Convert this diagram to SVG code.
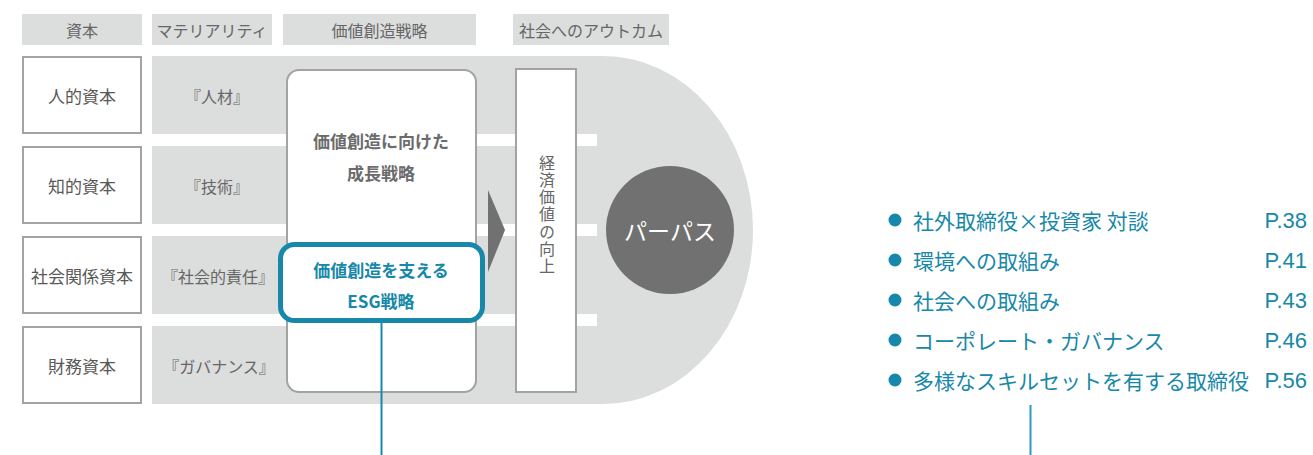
<svg xmlns="http://www.w3.org/2000/svg" width="1313" height="455" viewBox="0 0 1313 455">
<style>
text{font-family:"Noto Sans CJK JP","Noto Sans",sans-serif;}
.hdr{fill:#dcdddd;}
.hdrt{font-size:16px;fill:#666;text-anchor:middle;dominant-baseline:central;}
.cap{fill:#fff;stroke:#a3a3a3;stroke-width:2;}
.capt{font-size:17px;fill:#595959;text-anchor:middle;dominant-baseline:central;}
.matt{font-size:16px;fill:#666;text-anchor:middle;dominant-baseline:central;}
.gap{fill:#fff;}
.ctr{font-size:17px;font-weight:bold;text-anchor:middle;dominant-baseline:central;}
.gr{fill:#6b6b6b;}
.tl{fill:#1788a9;}
.vt{font-size:16px;fill:#666;text-anchor:middle;writing-mode:vertical-rl;letter-spacing:1.3px;}
.li{font-size:21px;fill:#1788a9;dominant-baseline:central;}
.pg{font-family:"Liberation Sans",Arial,sans-serif;font-size:22px;fill:#1788a9;dominant-baseline:central;text-anchor:end;}
</style>
<rect width="1313" height="455" fill="#fff"/>
<g id="headers">
<rect class="hdr" x="22" y="14" width="120" height="31"/>
<text class="hdrt" x="82" y="29.5">資本</text>
<rect class="hdr" x="152" y="14" width="120" height="31"/>
<text class="hdrt" x="212" y="29.5">マテリアリティ</text>
<rect class="hdr" x="283" y="14" width="193" height="31"/>
<text class="hdrt" x="379.5" y="29.5">価値創造戦略</text>
<rect class="hdr" x="513" y="14" width="156" height="31"/>
<text class="hdrt" x="591" y="29.5">社会へのアウトカム</text>
</g>
<g id="band">
<path d="M152 56 H603 A150 174 0 0 1 603 404 H152 Z" fill="#dcdddd"/>
<rect class="gap" x="152" y="134" width="445" height="12"/>
<rect class="gap" x="152" y="224" width="445" height="12"/>
<rect class="gap" x="152" y="314" width="445" height="12"/>
</g>
<g id="capital-human">
<rect class="cap" x="23" y="57" width="118" height="76"/>
<text class="capt" x="82" y="95">人的資本</text>
<text class="matt" x="217" y="96">『人材』</text>
</g>
<g id="capital-intellectual">
<rect class="cap" x="23" y="147" width="118" height="76"/>
<text class="capt" x="82" y="185">知的資本</text>
<text class="matt" x="217" y="186">『技術』</text>
</g>
<g id="capital-social">
<rect class="cap" x="23" y="237" width="118" height="76"/>
<text class="capt" x="82" y="275">社会関係資本</text>
<text class="matt" x="218" y="276">『社会的責任』</text>
</g>
<g id="capital-financial">
<rect class="cap" x="23" y="327" width="118" height="76"/>
<text class="capt" x="82" y="365">財務資本</text>
<text class="matt" x="219" y="366">『ガバナンス』</text>
</g>
<g id="strategy">
<rect class="cap" x="287" y="70" width="189" height="322" rx="12"/>
<text class="ctr gr" x="381" y="140">価値創造に向けた</text>
<text class="ctr gr" x="381" y="172">成長戦略</text>
</g>
<g id="esg">
<rect x="280.5" y="244.5" width="202" height="76" rx="14" fill="#fff" stroke="#1788a9" stroke-width="5"/>
<text class="ctr tl" x="381" y="269">価値創造を支える</text>
<text class="ctr tl" x="381" y="300">ESG戦略</text>
</g>
<g id="economic">
<rect class="cap" x="516" y="69" width="60" height="323"/>
<text class="vt" x="547" y="215">経済価値の向上</text>
</g>
<g id="purpose">
<circle cx="670" cy="230" r="64" fill="#727171"/>
<text x="670" y="230" font-size="23" fill="#fff" text-anchor="middle" dominant-baseline="central">パーパス</text>
</g>
<g id="connectors">
<polygon points="488,190 505,230 488,272" fill="#727171"/>
<line x1="381.5" y1="323" x2="381.5" y2="455" stroke="#1788a9" stroke-width="2"/>
<line x1="1030.5" y1="405" x2="1030.5" y2="455" stroke="#2a9bbd" stroke-width="2"/>
</g>
<g id="links">
<circle cx="895" cy="220" r="6.5" fill="#1788a9"/>
<text class="li" x="913" y="220">社外取締役×投資家 対談</text>
<text class="pg" x="1307" y="220">P.38</text>
<circle cx="895" cy="260" r="6.5" fill="#1788a9"/>
<text class="li" x="913" y="260">環境への取組み</text>
<text class="pg" x="1307" y="260">P.41</text>
<circle cx="895" cy="300" r="6.5" fill="#1788a9"/>
<text class="li" x="913" y="300">社会への取組み</text>
<text class="pg" x="1307" y="300">P.43</text>
<circle cx="895" cy="340" r="6.5" fill="#1788a9"/>
<text class="li" x="913" y="340">コーポレート・ガバナンス</text>
<text class="pg" x="1307" y="340">P.46</text>
<circle cx="895" cy="380" r="6.5" fill="#1788a9"/>
<text class="li" x="913" y="380">多様なスキルセットを有する取締役</text>
<text class="pg" x="1307" y="380">P.56</text>
</g>
</svg>
